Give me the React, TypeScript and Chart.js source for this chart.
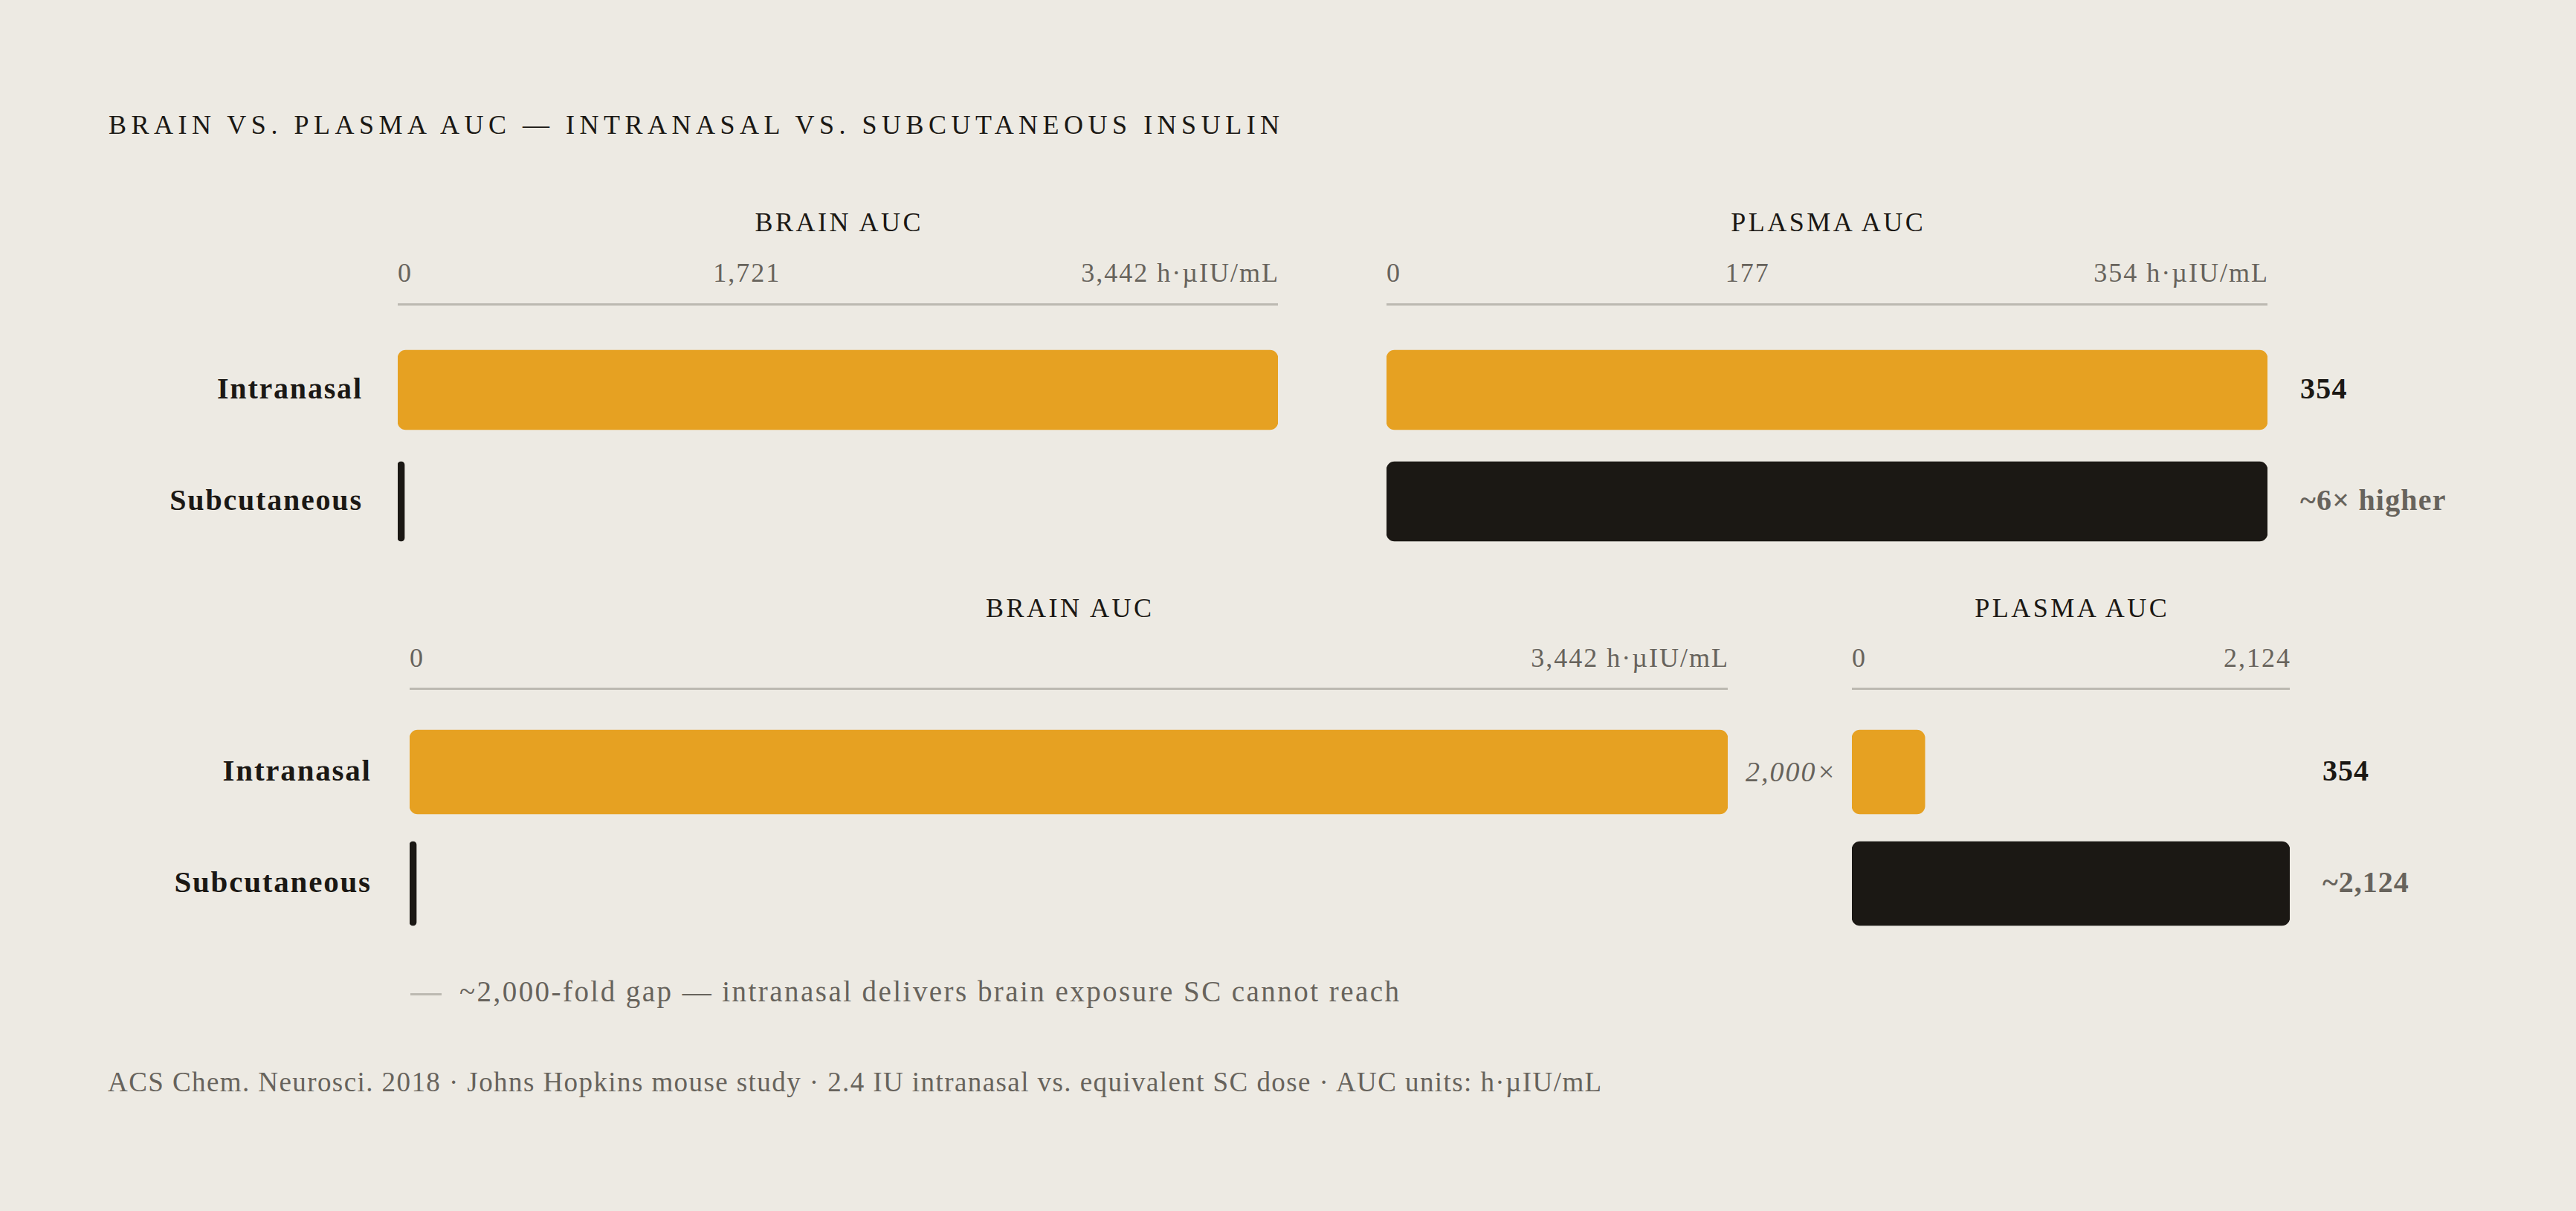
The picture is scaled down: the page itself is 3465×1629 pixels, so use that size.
import React, { useEffect, useRef } from "react";
import { Chart, registerables } from "chart.js";

Chart.register(...registerables);

// ---------------- data ----------------
const routes = ["Intranasal", "Subcutaneous"];
const brainAuc = [3442, 1.7]; // h·µIU/mL (SC brain exposure ~2,000-fold lower)
const plasmaAuc = [354, 2124]; // h·µIU/mL
const topBrainMax = 3442;
const topPlasmaMax = 354;
const bottomBrainMax = 3442;
const bottomPlasmaMax = 2124;
const topBrainTicks = ["0", "1,721", "3,442 h·µIU/mL"];
const topPlasmaTicks = ["0", "177", "354 h·µIU/mL"];
const bottomBrainTicks = ["0", "3,442 h·µIU/mL"];
const bottomPlasmaTicks = ["0", "2,124"];
const topValueLabels = ["354", "~6× higher"];
const bottomValueLabels = ["354", "~2,124"];
const gapLabel = "2,000×";
const panelTitles = ["BRAIN AUC", "PLASMA AUC"];
const chartTitle = "BRAIN VS. PLASMA AUC — INTRANASAL VS. SUBCUTANEOUS INSULIN";
const noteText = "~2,000-fold gap — intranasal delivers brain exposure SC cannot reach";
const footerText =
  "ACS Chem. Neurosci. 2018 · Johns Hopkins mouse study · 2.4 IU intranasal vs. equivalent SC dose · AUC units: h·µIU/mL";

// ---------------- style ----------------
const W = 3465;
const H = 1629;
const BG = "#EDEAE3";
const ORANGE = "#E6A122";
const INK = "#1B1814";
const MUTED = "#67635C";
const RULE = "#BCB9B1";
const FONT = '"Liberation Serif", "Times New Roman", serif';
const routeColors = [ORANGE, INK];

type TxtProps = {
  x: number;
  y: number;
  size: number;
  align?: "left" | "right" | "center";
  weight?: number;
  italic?: boolean;
  ls?: number;
  color?: string;
  children: React.ReactNode;
};

function Txt({ x, y, size, align = "left", weight = 400, italic = false, ls = 0, color = INK, children }: TxtProps) {
  const shift = align === "right" ? "-100%" : align === "center" ? "-50%" : "0";
  const left = align === "right" ? x + ls : align === "center" ? x + ls / 2 : x;
  return (
    <div
      style={{
        position: "absolute",
        left,
        top: y - 0.8375 * size,
        fontFamily: FONT,
        fontSize: size,
        lineHeight: 1,
        fontWeight: weight,
        fontStyle: italic ? "italic" : "normal",
        letterSpacing: ls,
        color,
        whiteSpace: "nowrap",
        transform: `translateX(${shift})`,
      }}
    >
      {children}
    </div>
  );
}

function TickRow({ x0, x1, y, labels }: { x0: number; x1: number; y: number; labels: string[] }) {
  const size = 36;
  const ls = 2;
  return (
    <div
      style={{
        position: "absolute",
        left: x0,
        top: y - 0.8375 * size,
        width: x1 - x0 + ls,
        display: "flex",
        justifyContent: "space-between",
        fontFamily: FONT,
        fontSize: size,
        lineHeight: 1,
        letterSpacing: ls,
        color: MUTED,
        whiteSpace: "nowrap",
      }}
    >
      {labels.map((l, i) => (
        <span key={i}>{l}</span>
      ))}
    </div>
  );
}

type PanelProps = {
  x0: number;
  x1: number;
  axisY: number;
  rows: number[];
  barH: number;
  values: number[];
  max: number;
  minBar?: number;
};

function BarPanel({ x0, x1, axisY, rows, barH, values, max, minBar = 0 }: PanelProps) {
  const ref = useRef<HTMLCanvasElement>(null);
  const PAD = 4;
  const top = axisY - PAD;
  const width = x1 - x0;
  const height = Math.round(rows[rows.length - 1] + barH / 2 + 6 - top);

  useEffect(() => {
    const gap = rows[1] - rows[0];
    const areaH = height - PAD;
    const yMin = -(rows[0] - axisY) / gap;
    const yMax = yMin + areaH / gap;
    const chart = new Chart(ref.current as HTMLCanvasElement, {
      type: "bar",
      data: {
        datasets: [
          {
            data: values.map((v, i) => ({ x: Math.min(v, max), y: i })) as any,
            backgroundColor: routeColors,
            borderRadius: 11,
            borderSkipped: false,
            barThickness: barH,
            minBarLength: minBar,
          },
        ],
      },
      options: {
        indexAxis: "y",
        animation: false,
        responsive: false,
        maintainAspectRatio: false,
        devicePixelRatio: 1,
        layout: { padding: { top: PAD, left: 0, right: 0, bottom: 0 } },
        plugins: { legend: { display: false }, tooltip: { enabled: false }, title: { display: false } },
        scales: {
          x: {
            type: "linear",
            position: "top",
            min: 0,
            max,
            offset: false,
            grid: { display: false, drawTicks: false },
            ticks: { display: false },
            border: { display: true, color: RULE, width: 3 },
          },
          y: {
            type: "linear",
            reverse: true,
            offset: false,
            grid: { offset: false },
            min: yMin,
            max: yMax,
            display: false,
          },
        },
      },
    });
    return () => chart.destroy();
  }, []);

  return (
    <canvas
      ref={ref}
      width={width}
      height={height}
      style={{ position: "absolute", left: x0, top, width, height }}
    />
  );
}

export default function App() {
  // layout (pixels)
  const top = { axisY: 408.5, rows: [524, 674], barH: 107, headY: 311, tickY: 379, labelRight: 486, valueX: 3094 };
  const bot = { axisY: 926, rows: [1038.5, 1188.5], barH: 113, headY: 830, tickY: 897, labelRight: 498, valueX: 3124 };
  const tb = { x0: 535, x1: 1719 };
  const tp = { x0: 1865, x1: 3050 };
  const bb = { x0: 551, x1: 2324 };
  const bp = { x0: 2491, x1: 3080 };

  return (
    <div style={{ position: "fixed", left: 0, top: 0, width: W, height: H, background: BG, overflow: "hidden" }}>
      <Txt x={146} y={180} size={36} ls={6.5}>
        {chartTitle}
      </Txt>

      {/* ---------- top panel ---------- */}
      <Txt x={(tb.x0 + tb.x1) / 2} y={top.headY} size={36} ls={3.5} align="center">
        {panelTitles[0]}
      </Txt>
      <Txt x={(tp.x0 + tp.x1) / 2} y={top.headY} size={36} ls={3.5} align="center">
        {panelTitles[1]}
      </Txt>
      <TickRow x0={tb.x0} x1={tb.x1} y={top.tickY} labels={topBrainTicks} />
      <TickRow x0={tp.x0} x1={tp.x1} y={top.tickY} labels={topPlasmaTicks} />
      <BarPanel {...tb} axisY={top.axisY} rows={top.rows} barH={top.barH} values={brainAuc} max={topBrainMax} minBar={9} />
      <BarPanel {...tp} axisY={top.axisY} rows={top.rows} barH={top.barH} values={plasmaAuc} max={topPlasmaMax} />
      {routes.map((r, i) => (
        <Txt key={"tl" + i} x={top.labelRight} y={top.rows[i] + 12} size={40} weight={700} ls={1.8} align="right">
          {r}
        </Txt>
      ))}
      {topValueLabels.map((v, i) => (
        <Txt key={"tv" + i} x={top.valueX} y={top.rows[i] + 12} size={40} weight={700} ls={1.2} color={i === 0 ? INK : MUTED}>
          {v}
        </Txt>
      ))}

      {/* ---------- bottom panel ---------- */}
      <Txt x={(bb.x0 + bb.x1) / 2} y={bot.headY} size={36} ls={3.5} align="center">
        {panelTitles[0]}
      </Txt>
      <Txt x={(bp.x0 + bp.x1) / 2} y={bot.headY} size={36} ls={3.5} align="center">
        {panelTitles[1]}
      </Txt>
      <TickRow x0={bb.x0} x1={bb.x1} y={bot.tickY} labels={bottomBrainTicks} />
      <TickRow x0={bp.x0} x1={bp.x1} y={bot.tickY} labels={bottomPlasmaTicks} />
      <BarPanel {...bb} axisY={bot.axisY} rows={bot.rows} barH={bot.barH} values={brainAuc} max={bottomBrainMax} minBar={9} />
      <BarPanel {...bp} axisY={bot.axisY} rows={bot.rows} barH={bot.barH} values={plasmaAuc} max={bottomPlasmaMax} />
      {routes.map((r, i) => (
        <Txt key={"bl" + i} x={bot.labelRight} y={bot.rows[i] + 12} size={41} weight={700} ls={1.8} align="right">
          {r}
        </Txt>
      ))}
      {bottomValueLabels.map((v, i) => (
        <Txt key={"bv" + i} x={bot.valueX} y={bot.rows[i] + 12} size={40} weight={700} ls={1} color={i === 0 ? INK : MUTED}>
          {v}
        </Txt>
      ))}
      <Txt x={2348} y={bot.rows[0] + 12} size={38} italic ls={2} color={MUTED}>
        {gapLabel}
      </Txt>

      {/* ---------- note & footer ---------- */}
      <div style={{ position: "absolute", left: 552, top: 1336, width: 42, height: 3, background: RULE }} />
      <Txt x={618} y={1347} size={39} ls={2.45} color={MUTED}>
        {noteText}
      </Txt>
      <Txt x={145} y={1468} size={37} ls={1.42} color={MUTED}>
        {footerText}
      </Txt>
    </div>
  );
}
